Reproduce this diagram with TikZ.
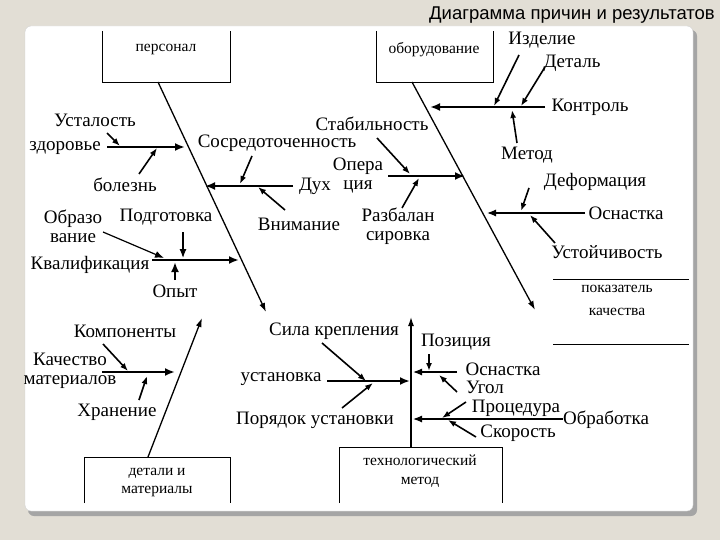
\documentclass[tikz,border=0pt]{standalone}
\usepackage{fontspec}
\setmainfont{Liberation Serif}
\newfontfamily\titlefont{Liberation Sans}
\usetikzlibrary{arrows.meta}
\definecolor{pagebg}{RGB}{226,222,213}
\definecolor{shadowgray}{RGB}{165,165,165}
\tikzset{
  lbl/.style={inner sep=0pt, align=center, font=\fontsize{19}{19}\selectfont},
  boxlbl/.style={inner sep=0pt, align=center, font=\fontsize{15.5}{19}\selectfont},
  spine/.style={line width=1.3pt, -{Latex[length=9pt,width=6pt]}},
  bigbranch/.style={line width=2.6pt, -{Latex[length=10pt,width=8pt]}},
  thinbranch/.style={line width=1.2pt, -{Latex[length=9pt,width=7pt]}},
  cause/.style={line width=1.6pt, -{Latex[length=8pt,width=6pt]}},
}
\begin{document}
\begin{tikzpicture}[x=1pt,y=-1pt]
\useasboundingbox (0,0) rectangle (720,540);
\fill[pagebg] (0,0) rectangle (720,540);
% panel
\fill[shadowgray, rounded corners=6pt] (28,30) rectangle (697,516);
\fill[white, draw=gray!35, rounded corners=6pt] (25,26) rectangle (693,511);
\node[inner sep=0pt, font=\titlefont\fontsize{18.5}{18.5}\selectfont] (title) at (572,15) {Диаграмма причин и результатов};

% boxes
\draw[line width=0.8pt] (102,31) |- (230,82) -- (230,31);
\draw[line width=0.8pt] (376,31) |- (493,82) -- (493,31);
\draw[line width=0.8pt] (84,503) |- (230,457) -- (230,503);
\draw[line width=0.8pt] (339,503) |- (502,447) -- (502,503);
\draw[line width=0.8pt] (553,279) -- (689,279);
\draw[line width=0.8pt] (553,344) -- (689,344);
\node[boxlbl] (pers) at (166,50) {персонал};
\node[boxlbl] (obor) at (434,50) {оборудование};
\node[boxlbl, font=\fontsize{15.5}{18}\selectfont] (detm) at (157,482) {детали и\\материалы};
\node[boxlbl] (tech) at (420,471) {технологический\\метод};
\node[boxlbl, font=\fontsize{15.5}{23}\selectfont] (pokaz) at (617,300) {показатель\\качества};

% spines
\coordinate (persA) at (158,82);  \coordinate (persB) at (266,312);
\coordinate (oborA) at (412,82);  \coordinate (oborB) at (535,310);
\coordinate (detA) at (148,457);  \coordinate (detB) at (202,318);
\coordinate (techA) at (411,447); \coordinate (techB) at (411,317);
\draw[spine] (persA) -- (persB);
\draw[spine] (oborA) -- (oborB);
\draw[spine] (detA) -- (detB);
\draw[spine] (techA) -- (techB);

% personnel
\node[lbl] (usta) at (95,120) {Усталость};
\node[lbl, anchor=east] (zdor) at (101,148) {здоровье};
\node[lbl] (bolez) at (125,185) {болезнь};
\node[lbl] (sosr) at (277,143) {Сосредоточенность};
\node[lbl] (dux) at (315,186) {Дух};
\node[lbl] (vnim) at (299,224) {Внимание};
\node[lbl] (podg) at (166,217) {Подготовка};
\node[lbl] (obraz) at (73,226) {Образо\\вание};
\node[lbl] (kval) at (90,265) {Квалификация};
\node[lbl] (opyt) at (175,291) {Опыт};
\coordinate (zdorA) at (107,147); \coordinate (zdorB) at (185,147);
\coordinate (ustA) at (107,133);  \coordinate (ustB) at (120,146);
\coordinate (bolA) at (139,174);  \coordinate (bolB) at (157,148);
\coordinate (duxA) at (293,186);  \coordinate (duxB) at (205,186);
\coordinate (sosA) at (252,156);  \coordinate (sosB) at (240,184);
\coordinate (vnimA) at (285,210); \coordinate (vnimB) at (258,187);
\coordinate (kvalA) at (152,260); \coordinate (kvalB) at (239,260);
\coordinate (podA) at (183,232);  \coordinate (podB) at (183,258);
\coordinate (obrA) at (103,232);  \coordinate (obrB) at (164,258);
\coordinate (opytA) at (175,280); \coordinate (opytB) at (175,262);
\draw[bigbranch] (zdorA) -- (zdorB);
\draw[cause] (ustA) -- (ustB);
\draw[cause] (bolA) -- (bolB);
\draw[bigbranch] (duxA) -- (duxB);
\draw[cause] (sosA) -- (sosB);
\draw[cause] (vnimA) -- (vnimB);
\draw[bigbranch] (kvalA) -- (kvalB);
\draw[thinbranch] (podA) -- (podB);
\draw[thinbranch] (obrA) -- (obrB);
\draw[bigbranch] (opytA) -- (opytB);

% equipment
\node[lbl] (izd) at (542,40) {Изделие};
\node[lbl] (detl) at (572,63) {Деталь};
\node[lbl] (kontr) at (590,107) {Контроль};
\node[lbl] (metod) at (527,155) {Метод};
\node[lbl] (deform) at (595,182) {Деформация};
\node[lbl] (osnU) at (626,213) {Оснастка};
\node[lbl] (ustoi) at (607,252) {Устойчивость};
\node[lbl] (stab) at (372,124) {Стабильность};
\node[lbl] (oper) at (358,176) {Опера\\ция};
\node[lbl] (razb) at (398,226) {Разбалан\\сировка};
\coordinate (kontA) at (545,107); \coordinate (kontB) at (430,107);
\coordinate (izdA) at (519,55);   \coordinate (izdB) at (494,106);
\coordinate (detlA) at (545,67);  \coordinate (detlB) at (521,106);
\coordinate (metA) at (517,143);  \coordinate (metB) at (512,110);
\coordinate (osnUA) at (585,213); \coordinate (osnUB) at (487,213);
\coordinate (defA) at (529,188);  \coordinate (defB) at (521,211);
\coordinate (ustoA) at (555,243); \coordinate (ustoB) at (530,215);
\coordinate (operA) at (388,176); \coordinate (operB) at (465,176);
\coordinate (stabA) at (377,138); \coordinate (stabB) at (410,174);
\coordinate (razbA) at (402,208); \coordinate (razbB) at (419,178);
\draw[bigbranch] (kontA) -- (kontB);
\draw[cause] (izdA) -- (izdB);
\draw[cause] (detlA) -- (detlB);
\draw[cause] (metA) -- (metB);
\draw[thinbranch] (osnUA) -- (osnUB);
\draw[cause] (defA) -- (defB);
\draw[cause] (ustoA) -- (ustoB);
\draw[bigbranch] (operA) -- (operB);
\draw[cause] (stabA) -- (stabB);
\draw[cause] (razbA) -- (razbB);

% parts and materials
\node[lbl] (komp) at (125,331) {Компоненты};
\node[lbl] (kach) at (70,371) {Качество\\материалов};
\node[lbl] (xran) at (117,412) {Хранение};
\coordinate (kachA) at (102,372); \coordinate (kachB) at (175,372);
\coordinate (kompA) at (103,344); \coordinate (kompB) at (128,371);
\coordinate (xranA) at (139,400); \coordinate (xranB) at (147,376);
\draw[bigbranch] (kachA) -- (kachB);
\draw[cause] (kompA) -- (kompB);
\draw[cause] (xranA) -- (xranB);

% process method
\node[lbl] (sila) at (334,331) {Сила крепления};
\node[lbl] (ustan) at (281,379) {установка};
\node[lbl] (poryad) at (315,420) {Порядок установки};
\node[lbl] (pozic) at (456,342) {Позиция};
\node[lbl] (osnL) at (503,369) {Оснастка};
\node[lbl] (ugol) at (485,387) {Угол};
\node[lbl] (proc) at (516,408) {Процедура};
\node[lbl] (obrab) at (606,420) {Обработка};
\node[lbl] (skor) at (518,433) {Скорость};
\coordinate (ustanA) at (327,381); \coordinate (ustanB) at (410,381);
\coordinate (silaA) at (322,343);  \coordinate (silaB) at (366,381);
\coordinate (porA) at (342,408);   \coordinate (porB) at (373,383);
\coordinate (osnLA) at (457,372);  \coordinate (osnLB) at (413,372);
\coordinate (pozA) at (429,354);   \coordinate (pozB) at (429,371);
\coordinate (uglA) at (457,392);   \coordinate (uglB) at (439,375);
\coordinate (obrabA) at (563,419); \coordinate (obrabB) at (413,419);
\coordinate (procA) at (466,402);  \coordinate (procB) at (442,418);
\coordinate (skorA) at (476,437);  \coordinate (skorB) at (448,420);
\draw[bigbranch] (ustanA) -- (ustanB);
\draw[cause] (silaA) -- (silaB);
\draw[cause] (porA) -- (porB);
\draw[thinbranch] (osnLA) -- (osnLB);
\draw[cause] (pozA) -- (pozB);
\draw[cause] (uglA) -- (uglB);
\draw[thinbranch] (obrabA) -- (obrabB);
\draw[cause] (procA) -- (procB);
\draw[cause] (skorA) -- (skorB);
\end{tikzpicture}
\end{document}
